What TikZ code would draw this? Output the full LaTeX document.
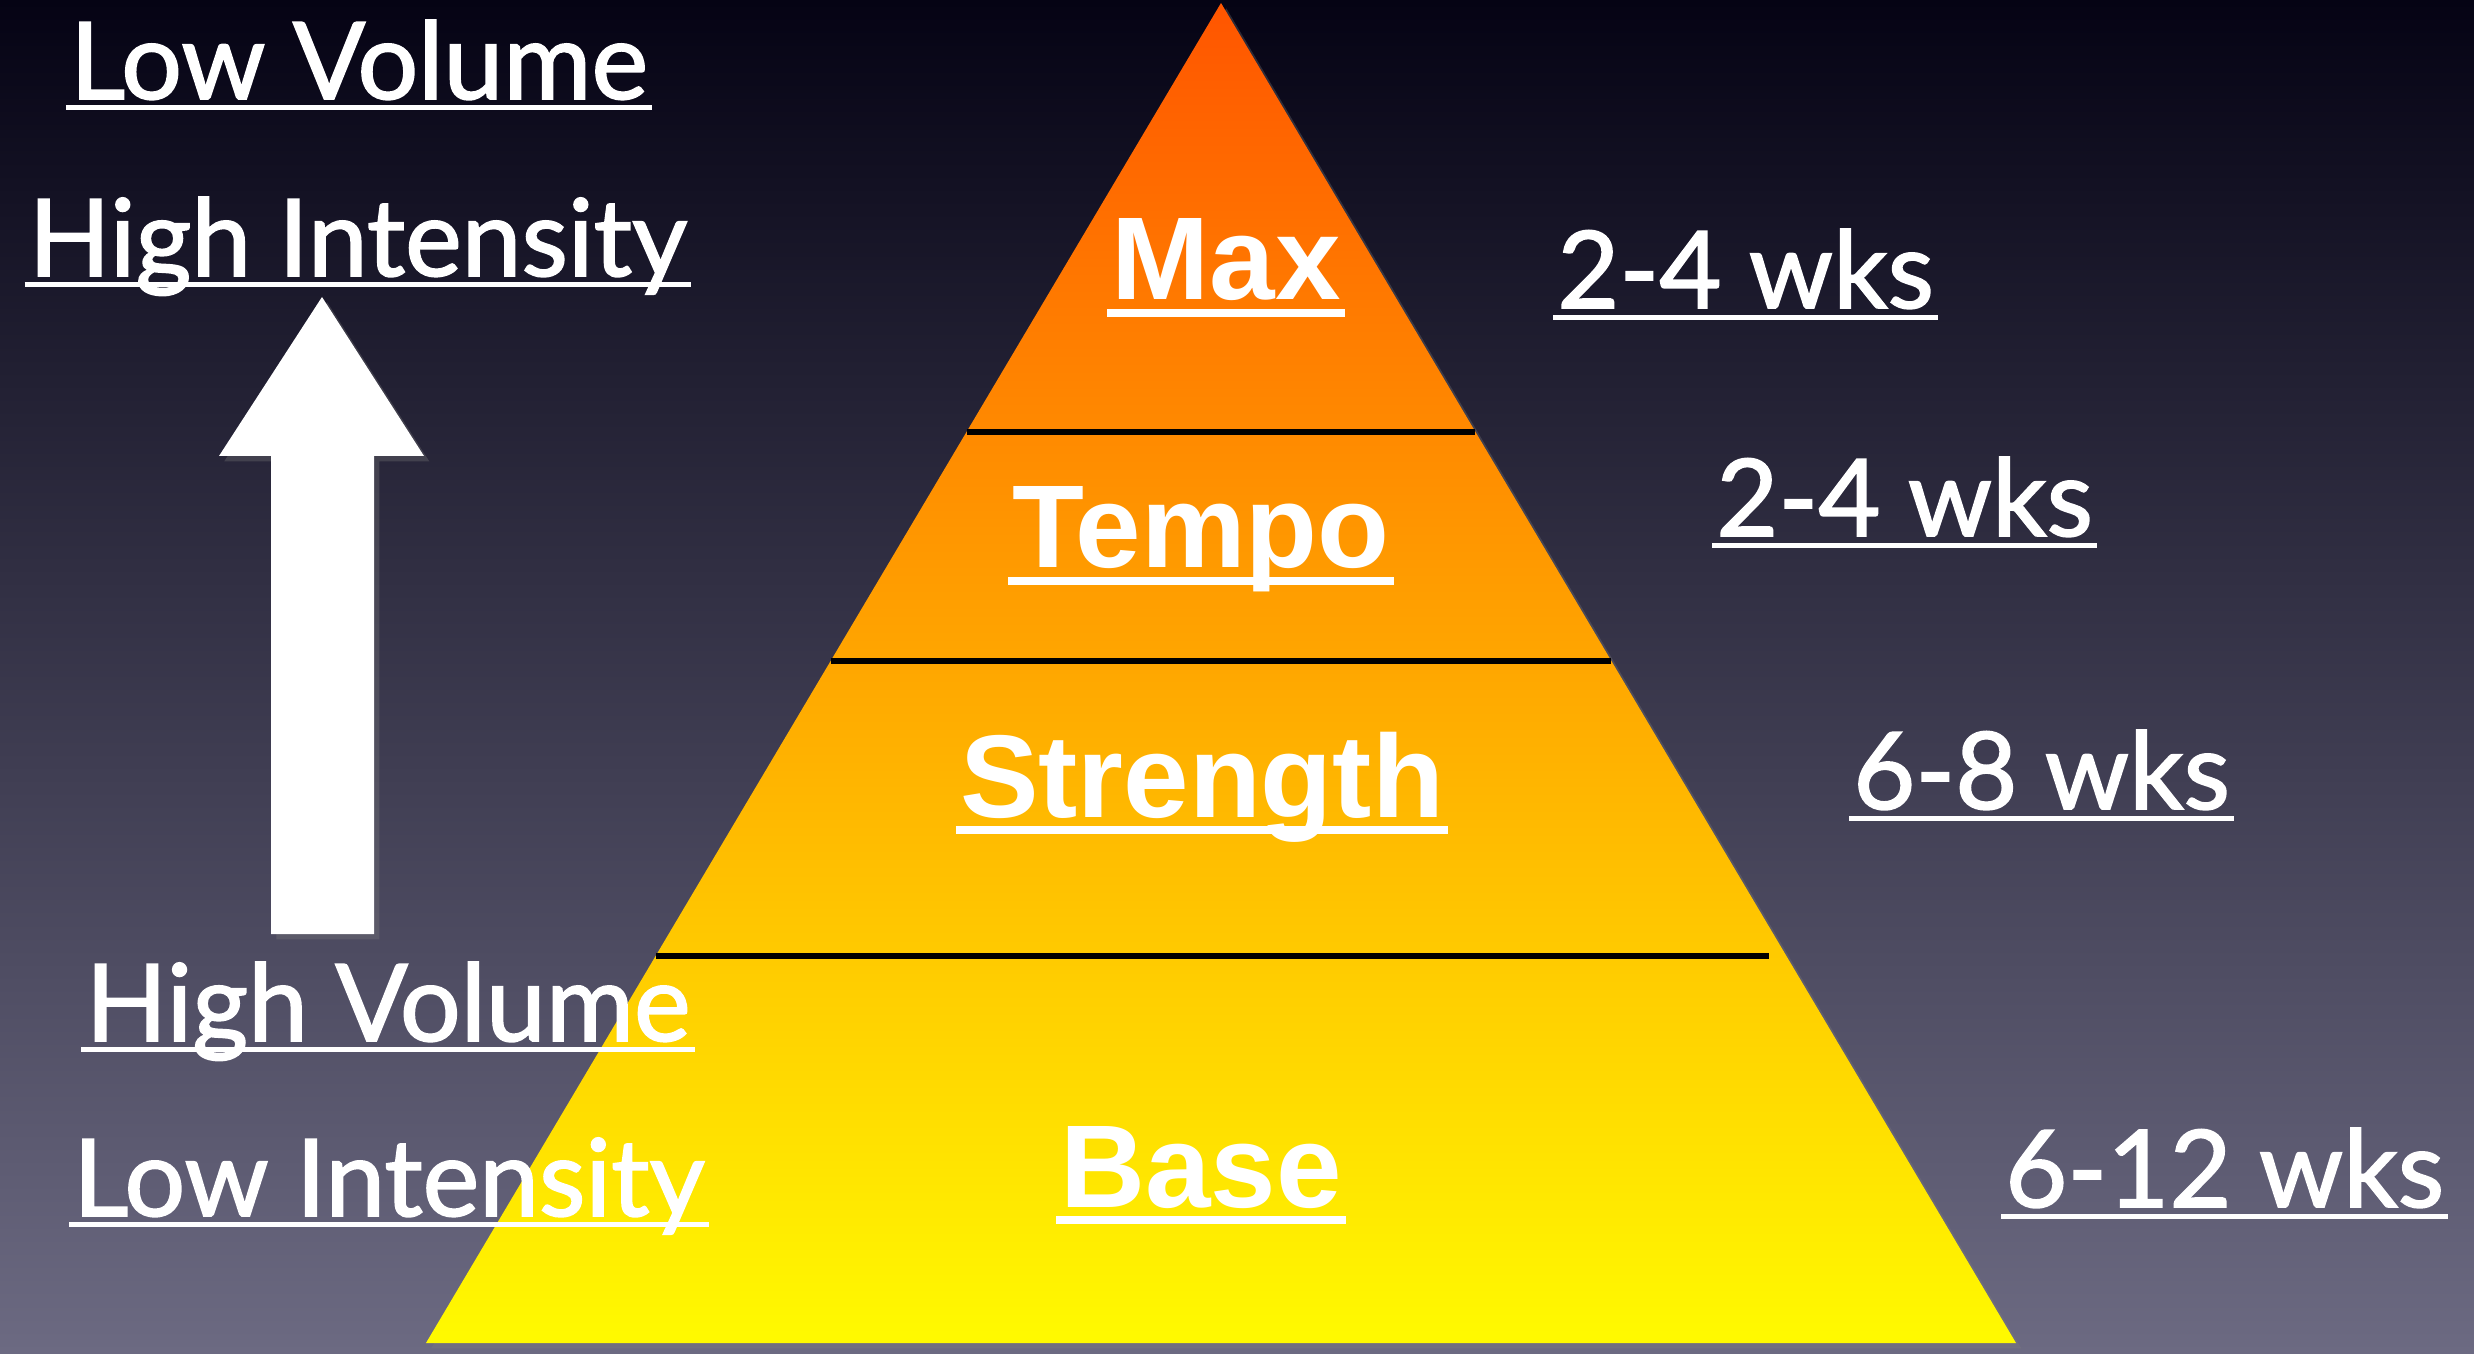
\documentclass[tikz,border=0pt]{standalone}
\usepackage{fontspec}
\newfontfamily\labelfont[FakeBold=1.6]{Lato}
\newfontfamily\tierfont{Liberation Sans}
\usetikzlibrary{calc,shadows}
\definecolor{bgtop}{RGB}{5,3,20}
\definecolor{bgmid}{RGB}{42,42,80}
\definecolor{bgbot}{RGB}{108,106,130}
\definecolor{pyrtop}{RGB}{255,85,0}
\definecolor{pyrbot}{RGB}{255,250,0}
\tikzset{
  side/.style={text=white, inner xsep=1pt, inner ysep=0pt,
    font=\labelfont\fontsize{30.5}{30}\selectfont},
  tier/.style={text=white, inner xsep=1pt, inner ysep=0pt,
    font=\tierfont\bfseries\fontsize{33.5}{34}\selectfont},
  uline/.style={white, line width=1.4pt},
  tline/.style={white, line width=2.3pt},
  tierline/.style={black, line width=1.7pt},
  soft/.style={drop shadow={opacity=.3, shadow xshift=1.5pt, shadow yshift=-1.5pt}},
}
\begin{document}
\begin{tikzpicture}
  \shade[top color=bgtop, middle color=bgmid, bottom color=bgbot]
    (0,0) rectangle (24.74,13.53);
  \useasboundingbox (0,0) rectangle (24.74,13.53);
  \coordinate (apex) at (12.21,13.50);
  \coordinate (bl) at (4.26,0.10);
  \coordinate (br) at (20.16,0.10);
  \shade[top color=pyrtop, bottom color=pyrbot, soft]
    (apex) -- (br) -- (bl) -- cycle;
  \draw[tierline] ($(apex)!.320!(bl)$) -- ($(apex)!.320!(br)$);
  \draw[tierline] ($(apex)!.491!(bl)$) -- ($(apex)!.491!(br)$);
  \draw[tierline] ($(apex)!.711!(bl)$) -- ++(11.13,0);
  \fill[white, soft] (3.22,10.56) -- (4.24,8.97) -- (3.74,8.97) -- (3.74,4.19)
    -- (2.71,4.19) -- (2.71,8.97) -- (2.19,8.97) -- cycle;
  \draw
    (12.26,10.53) node[tier, anchor=base] (max){Max}
    (12.01,7.85) node[tier, anchor=base] (tempo){Tempo}
    (12.02,5.36) node[tier, anchor=base] (strength){Strength}
    (12.01,1.46) node[tier, anchor=base] (base){Base};
  \draw
    (15.53,10.45) node[side, anchor=base west] (wk1){2-4 wks}
    (17.12,8.17) node[side, anchor=base west] (wk2){2-4 wks}
    (18.49,5.44) node[side, anchor=base west] (wk3){6-8 wks}
    (20.01,1.46) node[side, anchor=base west] (wk4){6-12 wks};
  \draw
    (3.59,12.54) node[side, anchor=base] (lowvol){Low Volume}
    (3.58,10.77) node[side, anchor=base] (hiint){High Intensity}
    (3.88,3.12) node[side, anchor=base] (hivol){High Volume}
    (3.89,1.37) node[side, anchor=base] (lowint){Low Intensity};
  \foreach \n in {max,tempo,strength,base}
    \draw[tline] ([yshift=-3.6pt]\n.base west) -- ([yshift=-3.6pt]\n.base east);
  \foreach \n in {wk1,wk2,wk3,wk4}
    \draw[uline] ([yshift=-2.7pt]\n.base west) -- ([yshift=-2.7pt]\n.base east);
  \foreach \n in {lowvol,hiint,hivol,lowint}
    \draw[uline] ([yshift=-2.3pt]\n.base west) -- ([yshift=-2.3pt]\n.base east);
\end{tikzpicture}
\end{document}
